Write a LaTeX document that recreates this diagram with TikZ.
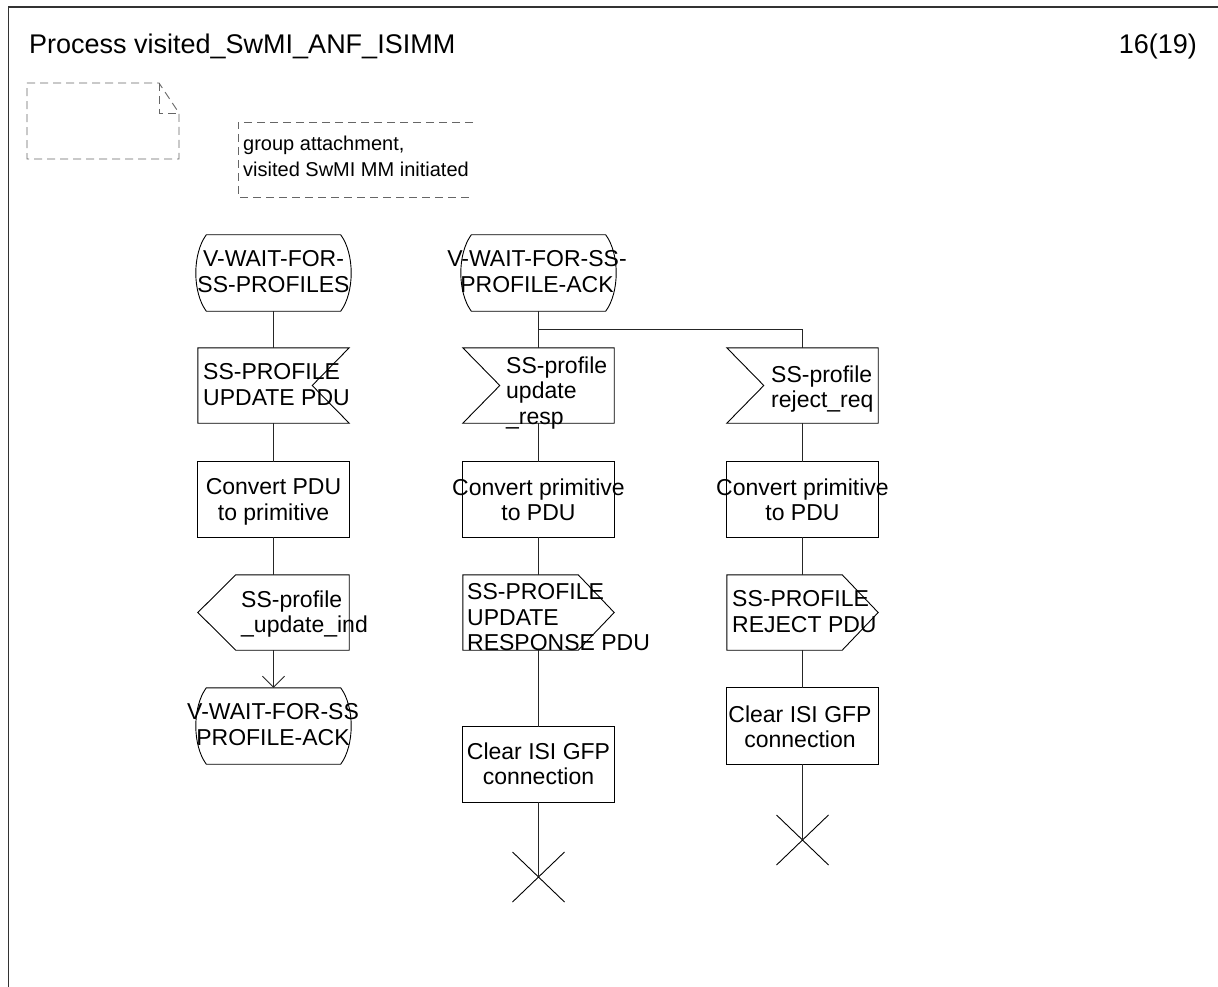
\documentclass[tikz,border=0pt]{standalone}
\usepackage{fontspec}
\setmainfont{Liberation Sans}
\usetikzlibrary{calc,arrows.meta}
\newcommand\sdlStateOutline[1]{%
  \draw[outline] ($(#1.north west)+(11,0)$) -- ($(#1.north east)+(-11,0)$)
    .. controls ($(#1.north east)+(3,19)$) and ($(#1.south east)+(3,-19)$) .. ($(#1.south east)+(-11,0)$)
    -- ($(#1.south west)+(11,0)$)
    .. controls ($(#1.south west)+(-3,-19)$) and ($(#1.north west)+(-3,19)$) .. cycle;}
\newcommand\sdlInRight[1]{%
  \draw[outline] (#1.north west) -- (#1.north east) -- ($(#1.east)+(-37,0)$) -- (#1.south east) -- (#1.south west) -- cycle;}
\newcommand\sdlInLeft[1]{%
  \draw[outline] (#1.north west) -- (#1.north east) -- (#1.south east) -- (#1.south west) -- ($(#1.west)+(37,0)$) -- cycle;}
\newcommand\sdlOutLeft[1]{%
  \draw[outline] ($(#1.north west)+(38,0)$) -- (#1.north east) -- (#1.south east) -- ($(#1.south west)+(38,0)$) -- (#1.west) -- cycle;}
\newcommand\sdlOutRight[1]{%
  \draw[outline] (#1.north west) -- ($(#1.north east)+(-36,0)$) -- (#1.east) -- ($(#1.south east)+(-36,0)$) -- (#1.south west) -- cycle;}
\newcommand\sdlTask[1]{%
  \draw[outline] (#1.north west) rectangle (#1.south east);}
\newcommand\sdlStopX[1]{%
  \draw[outline] ($(#1)+(-26,-25)$) -- ($(#1)+(26,25)$) ($(#1)+(-26,25)$) -- ($(#1)+(26,-25)$);}
\begin{document}
\begin{tikzpicture}[x=1pt,y=-1pt,
  shp/.style={draw=none,rectangle,inner sep=0pt,minimum width=151pt,minimum height=75pt},
  stshp/.style={shp,minimum width=156pt,minimum height=76pt},
  txt/.style={inner sep=0pt,font=\fontsize{23}{25.5}\selectfont},
  lbl/.style={txt,anchor=north west,align=left},
  clbl/.style={txt,anchor=north,align=center},
  outline/.style={draw=black,line width=0.9pt},
  conn/.style={draw=black!85,line width=0.9pt},
  dsh/.style={draw=black!60,line width=0.9pt,dash pattern=on 8pt off 5pt},
  ttl/.style={inner sep=0pt,font=\fontsize{27}{30}\selectfont},
  cmt/.style={inner sep=0pt,anchor=base west,font=\fontsize{20}{26}\selectfont}]
\useasboundingbox (0,0) rectangle (1218,987);
% frame
\draw[line width=1.3pt,draw=black!80] (8.5,987) -- (8.5,7) -- (1218,7);
\node[ttl,anchor=base west] (title) at (29,54) {Process visited\_SwMI\_ANF\_ISIMM};
\node[ttl,anchor=base east] (page) at (1197,54) {16(19)};
% document symbol
\draw[dsh] (27,83) -- (159,83) -- (179,113) -- (179,159) -- (27,159) -- cycle;
\draw[dsh] (159,83) -- (159,113) -- (179,113);
% comment
\draw[dsh] (473,122) -- (238,122) -- (238,197) -- (473,197);
\node[cmt] (cm1) at (243,151) {group attachment,};
\node[cmt] (cm2) at (243,177) {visited SwMI MM initiated};
% column 1
\node[stshp] (s1) at (273.5,273) {};
\node[shp] (i1) at (273.5,385.5) {};
\node[shp] (t1) at (273.5,499.5) {};
\node[shp] (o1) at (273.5,612.5) {};
\node[stshp] (s2) at (273.5,726) {};
% column 2
\node[stshp] (s3) at (538.5,273) {};
\coordinate (br) at (538.5,329);
\node[shp] (i2) at (538.5,385.5) {};
\node[shp] (t2) at (538.5,499.5) {};
\node[shp] (o2) at (538.5,612.5) {};
\node[shp] (c2) at (538.5,764.5) {};
\coordinate (x2) at (538.5,877);
% column 3
\node[shp] (i3) at (802.5,385.5) {};
\node[shp] (t3) at (802.5,499.5) {};
\node[shp] (o3) at (802.5,612.5) {};
\node[shp,minimum height=76pt] (c3) at (802.5,726) {};
\coordinate (x3) at (802.5,840);
% outlines
\sdlStateOutline{s1}
\sdlStateOutline{s2}
\sdlStateOutline{s3}
\sdlInRight{i1}
\sdlInLeft{i2}
\sdlInLeft{i3}
\sdlTask{t1}
\sdlTask{t2}
\sdlTask{t3}
\sdlTask{c2}
\sdlTask{c3}
\sdlOutLeft{o1}
\sdlOutRight{o2}
\sdlOutRight{o3}
\sdlStopX{x2}
\sdlStopX{x3}
% connectors
\draw[conn] (s1.south) -- (i1.north);
\draw[conn] (i1.south) -- (t1.north);
\draw[conn] (t1.south) -- (o1.north);
\draw[conn,-{Straight Barb[length=11pt,width=22pt]}] (o1.south) -- (s2.north);
\draw[conn] (s3.south) -- (i2.north);
\draw[conn] (s3.south) -- (br) -| (i3.north);
\draw[conn] (i2.south) -- (t2.north);
\draw[conn] (t2.south) -- (o2.north);
\draw[conn] (o2.south) -- (c2.north);
\draw[conn] (c2.south) -- (x2);
\draw[conn] (i3.south) -- (t3.north);
\draw[conn] (t3.south) -- (o3.north);
\draw[conn] (o3.south) -- (c3.north);
\draw[conn] (c3.south) -- (x3);
% texts
\node[clbl] (s1t) at (273.5,250.5) {V-WAIT-FOR-\\SS-PROFILES};
\node[clbl] (s3t) at (537,250.5) {V-WAIT-FOR-SS-\\PROFILE-ACK};
\node[clbl] (s2t) at (273,703.5) {V-WAIT-FOR-SS\\PROFILE-ACK};
\node[lbl] (i1t) at (203,363.5) {SS-PROFILE\\UPDATE PDU};
\node[clbl] (t1t) at (273.5,478.5) {Convert PDU\\to primitive};
\node[lbl] (o1t) at (241,590.5) {SS-profile\\\_update\_ind};
\node[lbl] (i2t) at (506,356.5) {SS-profile\\update\\\_resp};
\node[clbl] (t2t) at (538.5,478.5) {Convert primitive\\to PDU};
\node[lbl] (o2t) at (467,583.5) {SS-PROFILE\\UPDATE\\RESPONSE PDU};
\node[clbl] (c2t) at (538.5,742.5) {Clear ISI GFP\\connection};
\node[lbl] (i3t) at (771,365.5) {SS-profile\\reject\_req};
\node[clbl] (t3t) at (802.5,478.5) {Convert primitive\\to PDU};
\node[lbl] (o3t) at (732,590.5) {SS-PROFILE\\REJECT PDU};
\node[clbl] (c3t) at (800,705.5) {Clear ISI GFP\\connection};
\end{tikzpicture}
\end{document}
